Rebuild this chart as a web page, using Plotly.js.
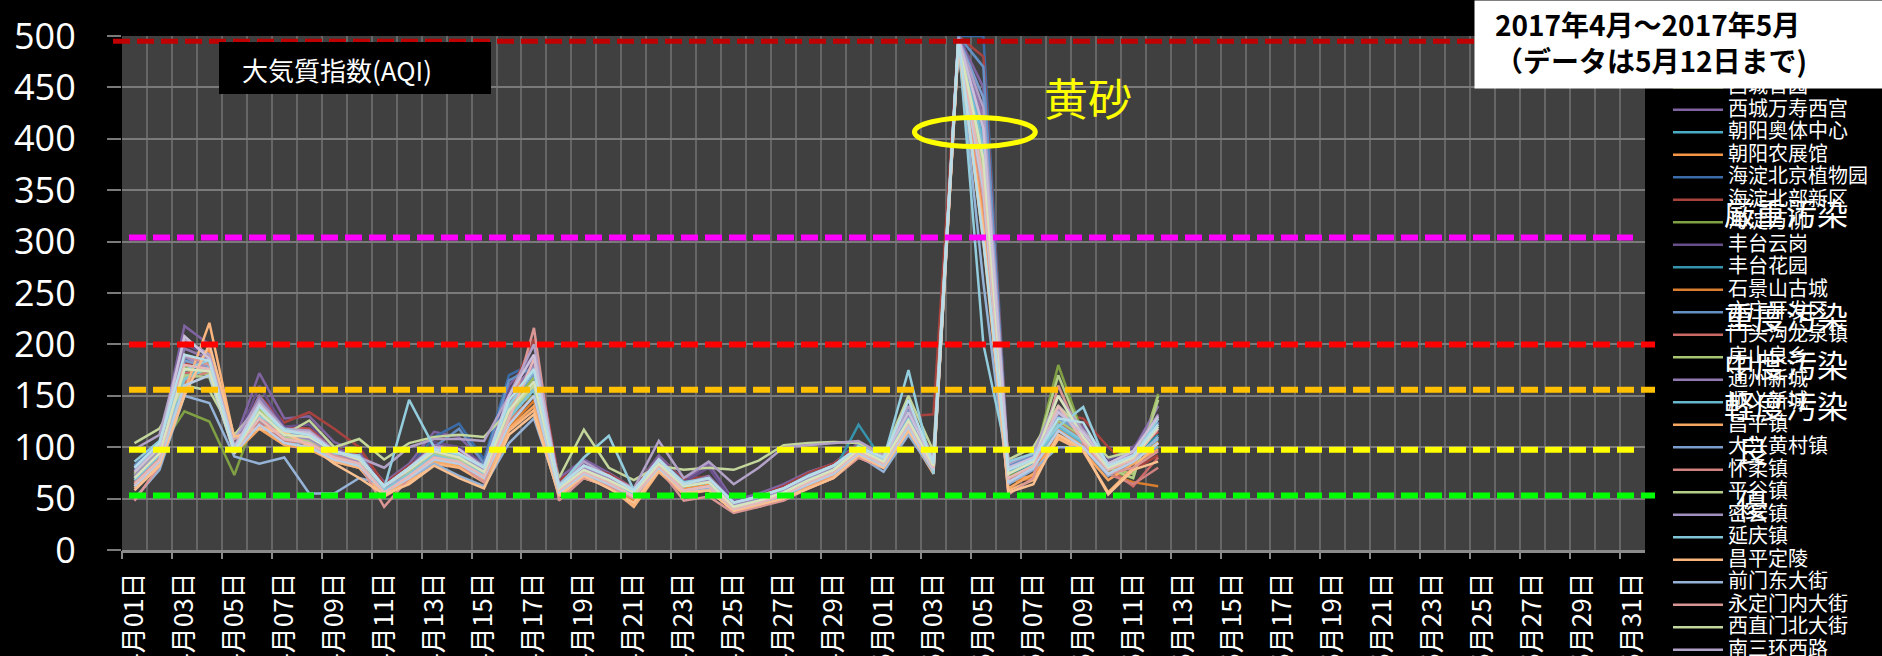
<!DOCTYPE html>
<html><head><meta charset="utf-8">
<script src="https://cdn.plot.ly/plotly-3.0.1.min.js"></script>
<style>html,body{margin:0;padding:0;background:#000;} #chart{width:1882px;height:656px;}</style>
</head><body><div id="chart"></div>
<script>
const categories = [
"4月01日","4月02日","4月03日","4月04日","4月05日","4月06日","4月07日","4月08日","4月09日","4月10日",
"4月11日","4月12日","4月13日","4月14日","4月15日","4月16日","4月17日","4月18日","4月19日","4月20日",
"4月21日","4月22日","4月23日","4月24日","4月25日","4月26日","4月27日","4月28日","4月29日","4月30日",
"5月01日","5月02日","5月03日","5月04日","5月05日","5月06日","5月07日","5月08日","5月09日","5月10日",
"5月11日","5月12日","5月13日","5月14日","5月15日","5月16日","5月17日","5月18日","5月19日","5月20日",
"5月21日","5月22日","5月23日","5月24日","5月25日","5月26日","5月27日","5月28日","5月29日","5月30日","5月31日"];

const stations = ["东城东四","东城天坛","西城官园","西城万寿西宫","朝阳奥体中心","朝阳农展馆","海淀北京植物园","海淀北部新区","海淀万柳","丰台云岗","丰台花园","石景山古城","亦庄开发区","门头沟龙泉镇","房山良乡","通州新城","顺义新城","昌平镇","大兴黄村镇","怀柔镇","平谷镇","密云镇","延庆镇","昌平定陵","前门东大街","永定门内大街","西直门北大街","南三环西路","东四环北路","京西北八达岭","京东北密云水库","京东东高村","京东南永乐店","京南榆垡","京西南琉璃河"];

const s00 = [80,100,185,175,100,140,115,110,95,90,62,78,95,92,78,140,170,62,80,70,58,86,63,68,45,50,60,72,80,98,88,130,85,495,400,78,88,128,112,82,92,118];
const s01 = [75,98,180,190,102,135,120,118,100,92,60,76,98,95,80,145,180,65,78,72,60,88,66,70,46,52,62,74,82,100,90,126,88,498,420,80,90,130,118,85,96,115];
const s02 = [72,96,178,172,98,138,112,112,96,88,63,80,97,90,78,138,168,64,82,70,57,85,64,67,44,50,58,70,79,97,86,128,84,496,390,76,86,135,110,80,88,122];
const s03 = [82,104,218,200,105,172,128,130,105,95,66,84,115,110,86,160,190,70,88,75,60,92,68,84,48,55,64,76,84,104,92,140,90,500,450,82,94,140,120,88,100,125];
const s04 = [70,92,170,182,96,128,108,105,90,85,60,75,92,88,75,135,160,60,76,68,55,84,62,66,43,48,57,70,78,100,86,132,82,494,380,74,84,122,106,78,90,110];
const s05 = [68,90,165,195,98,125,110,108,92,86,58,72,90,86,72,125,150,58,74,66,52,82,60,64,40,46,55,66,76,96,84,122,80,492,350,68,72,118,102,76,86,105];
const s06 = [78,100,175,178,100,148,118,115,96,88,60,80,110,123,88,170,182,62,82,74,58,88,62,68,44,50,58,70,80,98,88,132,86,500,500,84,88,126,114,86,96,120];
const s07 = [76,98,180,185,104,150,124,134,118,100,64,82,102,96,82,150,205,68,82,74,60,90,68,72,46,52,62,75,84,102,90,130,132,500,480,86,92,132,128,100,78,92];
const s08 = [74,98,135,125,73,140,112,108,94,86,60,78,96,90,76,138,150,60,80,70,56,84,62,66,42,48,56,68,78,96,84,126,82,495,360,72,84,180,112,78,70,152];
const s09 = [80,102,200,190,100,160,120,122,100,90,62,80,105,100,84,155,185,64,84,72,58,90,66,80,46,52,60,72,82,100,90,134,88,498,430,80,90,138,116,86,98,140];
const s10 = [72,94,172,185,95,130,106,104,90,84,58,74,92,86,74,132,158,60,76,66,54,84,62,66,42,48,56,68,76,122,86,128,82,494,370,74,84,120,104,78,90,112];
const s11 = [65,88,160,190,96,120,104,100,88,82,56,70,88,84,70,120,145,56,72,64,48,80,58,62,40,45,52,64,74,94,82,118,78,490,330,66,70,112,100,74,66,62];
const s12 = [82,104,188,180,102,142,116,112,98,90,62,80,100,118,84,165,178,64,82,72,58,88,64,70,45,51,60,73,82,100,90,136,88,500,470,82,92,130,116,84,94,128];
const s13 = [70,94,172,176,96,132,110,106,92,86,58,76,94,88,76,134,160,60,78,68,54,84,62,66,43,48,56,68,78,96,86,128,84,494,390,74,86,124,108,80,62,90];
const s14 = [72,96,176,170,98,136,112,110,96,88,62,80,96,90,78,136,162,62,80,70,56,86,62,66,44,50,58,70,80,98,88,126,84,495,380,76,86,126,110,80,74,150];
const s15 = [78,100,196,186,100,150,118,116,98,90,60,80,102,98,82,150,180,64,82,72,58,90,64,72,46,52,60,72,82,100,90,132,86,498,420,80,90,134,114,84,96,140];
const s16 = [70,92,168,180,96,126,104,104,90,84,58,74,92,86,74,130,156,60,76,66,54,84,62,66,42,48,56,70,78,102,88,130,82,494,400,76,84,120,104,78,90,100];
const s17 = [62,86,158,186,94,118,102,98,86,80,54,68,86,82,68,118,140,54,70,62,44,78,56,60,38,44,52,62,72,92,80,116,76,490,320,60,74,110,96,68,84,98];
const s18 = [80,102,184,178,100,140,114,110,96,90,62,78,96,94,78,142,172,62,80,70,58,86,64,68,45,50,60,72,80,98,88,130,86,498,440,80,90,128,114,84,92,124];
const s19 = [66,90,164,174,94,124,106,104,90,84,56,72,90,84,72,124,150,56,74,64,52,82,58,62,40,46,54,64,74,94,82,120,78,492,360,68,80,116,100,74,64,80];
const s20 = [74,98,170,168,96,130,110,106,92,86,60,76,94,88,76,132,160,60,78,68,56,84,62,66,43,49,58,70,78,96,86,126,82,495,370,74,86,170,110,80,70,146];
const s21 = [72,96,188,176,98,146,112,108,94,86,60,78,96,90,78,140,178,62,80,70,56,86,64,68,44,50,58,70,80,98,88,130,84,496,410,78,88,136,112,82,94,132];
const s22 = [68,92,166,178,95,134,108,104,90,84,58,74,92,86,74,128,156,58,76,66,54,84,62,66,42,48,56,68,78,100,86,128,80,494,390,74,86,122,106,78,90,108];
const s23 = [60,84,154,221,108,120,116,100,86,80,52,66,84,80,66,116,136,52,70,62,42,76,54,58,38,42,50,60,70,90,80,114,74,488,300,58,68,108,96,56,80,104];
const s24 = [50,78,150,143,91,84,90,55,55,70,64,70,84,72,62,104,128,56,72,60,52,80,56,60,40,44,52,64,74,92,76,112,76,490,260,64,78,100,100,72,86,110];
const s25 = [48,82,190,180,96,130,108,104,92,84,42,70,90,84,66,128,216,48,70,62,50,80,48,52,36,42,48,60,70,90,80,120,78,492,340,54,70,160,104,74,80,96];
const s26 = [104,118,160,155,112,140,112,126,100,108,88,104,110,112,110,135,160,70,117,80,68,82,78,80,78,87,102,104,105,104,92,150,96,496,380,88,100,140,116,90,96,128];
const s27 = [98,112,205,190,108,145,118,116,96,90,80,100,108,108,106,150,200,64,86,72,60,106,70,86,64,80,100,102,104,106,92,140,90,498,430,84,94,150,116,84,96,130];
const s28 = [86,106,175,185,100,130,118,112,94,92,60,146,100,92,82,140,175,62,90,111,58,88,66,70,46,52,60,72,82,100,88,175,74,498,200,86,94,120,139,80,90,128];
const s29 = [58,82,150,200,110,118,114,102,84,70,54,64,82,70,60,112,132,54,72,60,46,78,56,58,38,44,50,60,70,92,80,116,78,490,310,56,64,112,98,54,78,86];
const s30 = [62,86,160,170,94,122,104,100,88,82,56,70,88,84,70,122,150,56,74,64,52,80,58,62,40,46,54,64,74,94,82,120,78,492,350,66,80,116,100,74,86,104];
const s31 = [64,88,180,176,96,128,108,104,90,84,56,72,90,86,72,128,186,58,76,66,52,82,58,62,40,46,54,66,76,96,84,124,80,494,360,70,82,140,106,78,88,118];
const s32 = [70,94,176,174,96,134,112,110,96,88,62,78,96,90,76,136,164,60,78,68,56,84,62,66,42,48,56,68,78,98,86,126,82,495,380,74,86,150,110,80,90,120];
const s33 = [76,100,208,186,100,142,116,114,96,90,62,80,100,98,80,150,190,62,82,72,58,88,64,70,46,52,60,72,82,100,90,134,86,498,410,80,90,134,114,84,96,130];
const s34 = [80,104,190,184,96,140,116,112,96,90,62,80,98,94,80,146,176,62,82,72,58,88,64,70,46,52,60,72,82,100,90,146,84,497,300,78,88,128,124,82,92,122];

const seriesValues = [s00,s01,s02,s03,s04,s05,s06,s07,s08,s09,s10,s11,s12,s13,s14,s15,s16,s17,s18,s19,s20,s21,s22,s23,s24,s25,s26,s27,s28,s29,s30,s31,s32,s33,s34];

const levelValues = [495, 304, 200, 156, 97.5, 53];
const levelLabels = ["厳重汚染","重度汚染","中度汚染","軽度汚染","良","優"];
const sandLabel = "黄砂";
const chartTitle = "大気質指数(AQI)";
const periodTitle = "2017年4月～2017年5月<br>（データは5月12日まで)";

// ---- styling ----
const colors = ["#4F81BD","#C0504D","#9BBB59","#8064A2","#4BACC6","#F79646",
"#3B6CA8","#A8423F","#80A044","#674F8A","#3693AC","#D97D2E",
"#6490C6","#CB6966","#A8C672","#9179B0","#66B8CF","#F8A763",
"#7A9FCF","#D0807E","#B3CE88","#A08FBF","#80C5D8","#F9B57D",
"#95B3D7","#D99694","#C3D69B","#B3A2C7","#93CDDD","#FAC090",
"#B9CDE5","#E6B9B8","#D7E4BD","#CCC1DA","#B7DEE8"];

const W = 1882, H = 656, L = 122, R = 1645, T = 36, B = 550;
const pw = R - L, ph = B - T;
const px2x = p => (p - L) / pw;
const py2y = p => (B - p) / ph;

const xs = seriesValues[0].map((_, i) => i);
const traces = seriesValues.map((vals, k) => ({
  type: 'scatter', mode: 'lines', x: xs, y: vals,
  name: '<span style="font-size:20px">' + stations[k] + '</span>',
  line: {color: colors[k], width: 2.5},
  hoverinfo: 'skip'
}));
traces.push({type:'scatter', mode:'lines', x:[], y:[], xaxis:'x2', showlegend:false, hoverinfo:'skip'});

const labelIdx = categories.map((_, i) => i).filter(i => i % 2 === 0);
const tickBounds = labelIdx.map(i => i - 0.5);

const levelStyle = [
  {color:'#C00000', x0:113, x1:1660, w:5},
  {color:'#FF00FF', x0:129, x1:1633, w:6},
  {color:'#FF0000', x0:129, x1:1655, w:6},
  {color:'#FFC000', x0:129, x1:1655, w:6},
  {color:'#FFFF00', x0:129, x1:1634, w:6},
  {color:'#00FF00', x0:129, x1:1655, w:6}];

const shapes = levelValues.map((v, k) => ({
  type:'line', xref:'paper', yref:'y', layer:'above',
  x0: px2x(levelStyle[k].x0), x1: px2x(levelStyle[k].x1), y0: v, y1: v,
  line:{color: levelStyle[k].color, width: levelStyle[k].w, dash:'17px,7px'}
}));
shapes.push({type:'rect', xref:'paper', yref:'paper', layer:'above',
  x0: px2x(219), x1: px2x(491), y0: py2y(94), y1: py2y(42),
  fillcolor:'#000', line:{width:0}});
shapes.push({type:'circle', xref:'x', yref:'y', layer:'above',
  x0: 31.24, x1: 36.08, y0: 392.5, y1: 420.7,
  line:{color:'#FFFF00', width:5}});

const labelPos = [[1722,211],[1722,315],[1722,363],[1722,404],[1735,448],[1735,502]];
const annotations = [
  {text: chartTitle, xref:'paper', yref:'paper', x: px2x(240), y: py2y(69), xanchor:'left', yanchor:'middle',
   showarrow:false, font:{size:26, color:'#fff', family:'Noto Sans CJK JP'}},
  {text: sandLabel, xref:'x', yref:'y', x: 38.19, y: 440.7, showarrow:false,
   font:{size:44, color:'#FFFF00', family:'Noto Sans CJK JP'}},
  {text: ' ', xref:'paper', yref:'paper', x: px2x(1474), y: py2y(0), xanchor:'left', yanchor:'top',
   width: 408, height: 87, borderpad: 0, bgcolor:'#fff', showarrow:false, font:{size:10}},
  {text: periodTitle, xref:'paper', yref:'paper', x: px2x(1493), y: py2y(42.5), xanchor:'left', yanchor:'middle',
   align:'left', showarrow:false, font:{size:28, color:'#000', family:'Noto Sans CJK JP', weight:'bold'}}
].concat(levelLabels.map((t, k) => ({
  text: t, xref:'paper', yref:'paper', x: px2x(labelPos[k][0]), y: py2y(labelPos[k][1]),
  xanchor:'left', yanchor:'middle', showarrow:false,
  font:{size:31, color:'#fff', family:'Noto Sans CJK JP'}
})));

const layout = {
  width: W, height: H,
  margin: {l: L, r: W - R, t: T, b: H - B, autoexpand: false},
  paper_bgcolor: '#000', plot_bgcolor: '#404040',
  showlegend: true,
  legend: {x: px2x(1668), xanchor:'left', y: py2y(26), yanchor:'top', bgcolor:'rgba(0,0,0,0)',
    font:{size:15, color:'#fff', family:'Noto Sans CJK SC'}, itemwidth: 50, tracegroupgap: 0, maxheight: 2000},
  xaxis: {
    type:'linear', range:[-0.5, categories.length - 0.5], tickmode:'array',
    tickvals: labelIdx, ticktext: labelIdx.map(i => categories[i]),
    ticks:'', tickangle:-90, showgrid:false, zeroline:false,
    showline:true, linecolor:'#8a8a8a', linewidth:3,
    ticklabelstandoff: 9,
    tickfont:{size:26, color:'#fff', family:'Noto Sans CJK JP'},
    minor:{tickmode:'linear', tick0:-0.5, dtick:1, showgrid:true, gridcolor:'#666666', gridwidth:2, ticks:''}
  },
  xaxis2: {
    overlaying:'x', anchor:'y', side:'bottom', type:'linear', range:[-0.5, categories.length - 0.5],
    tickmode:'array', tickvals: tickBounds, ticks:'outside', ticklen:8, tickwidth:2, tickcolor:'#8a8a8a',
    showticklabels:false, showgrid:false, zeroline:false, showline:false
  },
  yaxis: {
    range:[0, 500], tick0:0, dtick:50, ticks:'outside', ticklen:14, tickwidth:2, tickcolor:'#7a7a7a',
    gridcolor:'#7a7a7a', gridwidth:2, zeroline:false, showline:false,
    ticklabelstandoff: 24,
    tickfont:{size:36, color:'#fff', family:'Open Sans'}
  },
  shapes: shapes,
  annotations: annotations
};

Plotly.newPlot('chart', traces, layout, {displayModeBar:false, staticPlot:true});
</script></body></html>
